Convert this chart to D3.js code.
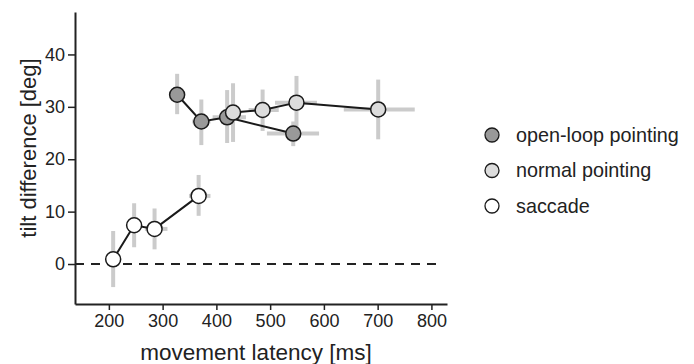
<!DOCTYPE html>
<html>
<head>
<meta charset="utf-8">
<script src="https://cdn.jsdelivr.net/npm/d3@7"></script>
<style>
  body { margin: 0; background: #fff; }
  text { font-family: "Liberation Sans", Arial, Helvetica, sans-serif; fill: #222; }
</style>
</head>
<body>
<div id="chart"></div>
<script>
// series names (legend order)
const seriesNames = ["open-loop pointing", "normal pointing", "saccade"];

// open-loop pointing
const openLatency = [327, 372, 420, 543];
const openTilt    = [32.3, 27.2, 28.0, 24.9];
const openTiltLo  = [28.6, 22.7, 23.1, 22.5];
const openTiltHi  = [36.3, 31.4, 33.2, 27.2];
const openLatLo   = [327, 355, 393, 494];
const openLatHi   = [327, 389, 455, 591];

// normal pointing
const normLatency = [431, 486, 549, 701];
const normTilt    = [28.9, 29.4, 30.8, 29.5];
const normTiltLo  = [23.3, 25.4, 26.2, 23.8];
const normTiltHi  = [34.5, 33.3, 35.9, 35.2];
const normLatLo   = [420, 460, 509, 637];
const normLatHi   = [445, 516, 587, 769];

// saccade
const sacLatency = [208, 247, 285, 367];
const sacTilt    = [0.9, 7.4, 6.7, 13.0];
const sacTiltLo  = [-4.4, 3.2, 2.8, 9.2];
const sacTiltHi  = [6.3, 11.6, 10.6, 17.0];
const sacLatLo   = [208, 240, 267, 349];
const sacLatHi   = [208, 254, 309, 389];

const xTicks = [200, 300, 400, 500, 600, 700, 800];
const yTicks = [0, 10, 20, 30, 40];

const fills = ["#999999", "#dcdcdc", "#ffffff"];

function rows(lat, tilt, tlo, thi, llo, lhi) {
  return lat.map((d, i) => ({x: d, y: tilt[i], ylo: tlo[i], yhi: thi[i], xlo: llo[i], xhi: lhi[i]}));
}
const data = [
  rows(openLatency, openTilt, openTiltLo, openTiltHi, openLatLo, openLatHi),
  rows(normLatency, normTilt, normTiltLo, normTiltHi, normLatLo, normLatHi),
  rows(sacLatency, sacTilt, sacTiltLo, sacTiltHi, sacLatLo, sacLatHi)
];

const width = 694, height = 364;
const plot = {left: 75, right: 447, top: 12, bottom: 304};

const svg = d3.select("#chart").append("svg")
  .attr("width", width)
  .attr("height", height);

const x = d3.scaleLinear().domain([137, 829]).range([plot.left, plot.right]);
const y = d3.scaleLinear().domain([-7.63, 48.1]).range([plot.bottom, plot.top]);

// axes
const xAxis = svg.append("g")
  .attr("transform", "translate(0," + plot.bottom + ")")
  .call(d3.axisBottom(x).tickValues(xTicks).tickSize(6).tickPadding(4).tickSizeOuter(0));
const yAxis = svg.append("g")
  .attr("transform", "translate(" + plot.left + ",0)")
  .call(d3.axisLeft(y).tickValues(yTicks).tickSize(7).tickPadding(3).tickSizeOuter(0));

[xAxis, yAxis].forEach(g => {
  g.select(".domain").attr("stroke", "#222").attr("stroke-width", 2);
  g.selectAll(".tick line").attr("stroke", "#222").attr("stroke-width", 1.5);
  g.selectAll(".tick text").attr("font-size", 18).attr("fill", "#222")
    .attr("font-family", "Liberation Sans, Arial, sans-serif");
});

// zero line
svg.append("line")
  .attr("x1", plot.left).attr("x2", 442)
  .attr("y1", y(0)).attr("y2", y(0))
  .attr("stroke", "#222").attr("stroke-width", 2)
  .attr("stroke-dasharray", "9,7");

// error bars
const err = svg.append("g");
data.forEach(s => {
  err.selectAll(null).data(s).enter().append("line")
    .attr("x1", d => x(d.x)).attr("x2", d => x(d.x))
    .attr("y1", d => y(d.ylo)).attr("y2", d => y(d.yhi))
    .attr("stroke", "#cbcbcb").attr("stroke-width", 4);
  err.selectAll(null).data(s.filter(d => d.xhi > d.xlo)).enter().append("line")
    .attr("x1", d => x(d.xlo)).attr("x2", d => x(d.xhi))
    .attr("y1", d => y(d.y)).attr("y2", d => y(d.y))
    .attr("stroke", "#cbcbcb").attr("stroke-width", 4);
});

// lines + markers
const line = d3.line().x(d => x(d.x)).y(d => y(d.y));
data.forEach((s, k) => {
  svg.append("path")
    .datum(s)
    .attr("fill", "none")
    .attr("stroke", "#1a1a1a")
    .attr("stroke-width", 2)
    .attr("d", line);
  svg.append("g").selectAll("circle").data(s).enter().append("circle")
    .attr("cx", d => x(d.x)).attr("cy", d => y(d.y))
    .attr("r", 7.5)
    .attr("fill", fills[k])
    .attr("stroke", "#1a1a1a").attr("stroke-width", 1.5);
});

// legend
const legend = svg.append("g");
const legendY = [135, 170.5, 206];
seriesNames.forEach((name, k) => {
  legend.append("circle")
    .attr("cx", 492).attr("cy", legendY[k]).attr("r", 7)
    .attr("fill", fills[k]).attr("stroke", "#1a1a1a").attr("stroke-width", 1.3);
  legend.append("text")
    .attr("x", 516).attr("y", legendY[k]).attr("dy", "0.35em")
    .attr("font-size", 19.8)
    .text(name);
});

// axis titles
svg.append("text")
  .attr("x", 256).attr("y", 360)
  .attr("text-anchor", "middle")
  .attr("font-size", 22.5)
  .text("movement latency [ms]");
svg.append("text")
  .attr("transform", "translate(36,148) rotate(-90)")
  .attr("text-anchor", "middle")
  .attr("font-size", 22)
  .text("tilt difference [deg]");
</script>
</body>
</html>
